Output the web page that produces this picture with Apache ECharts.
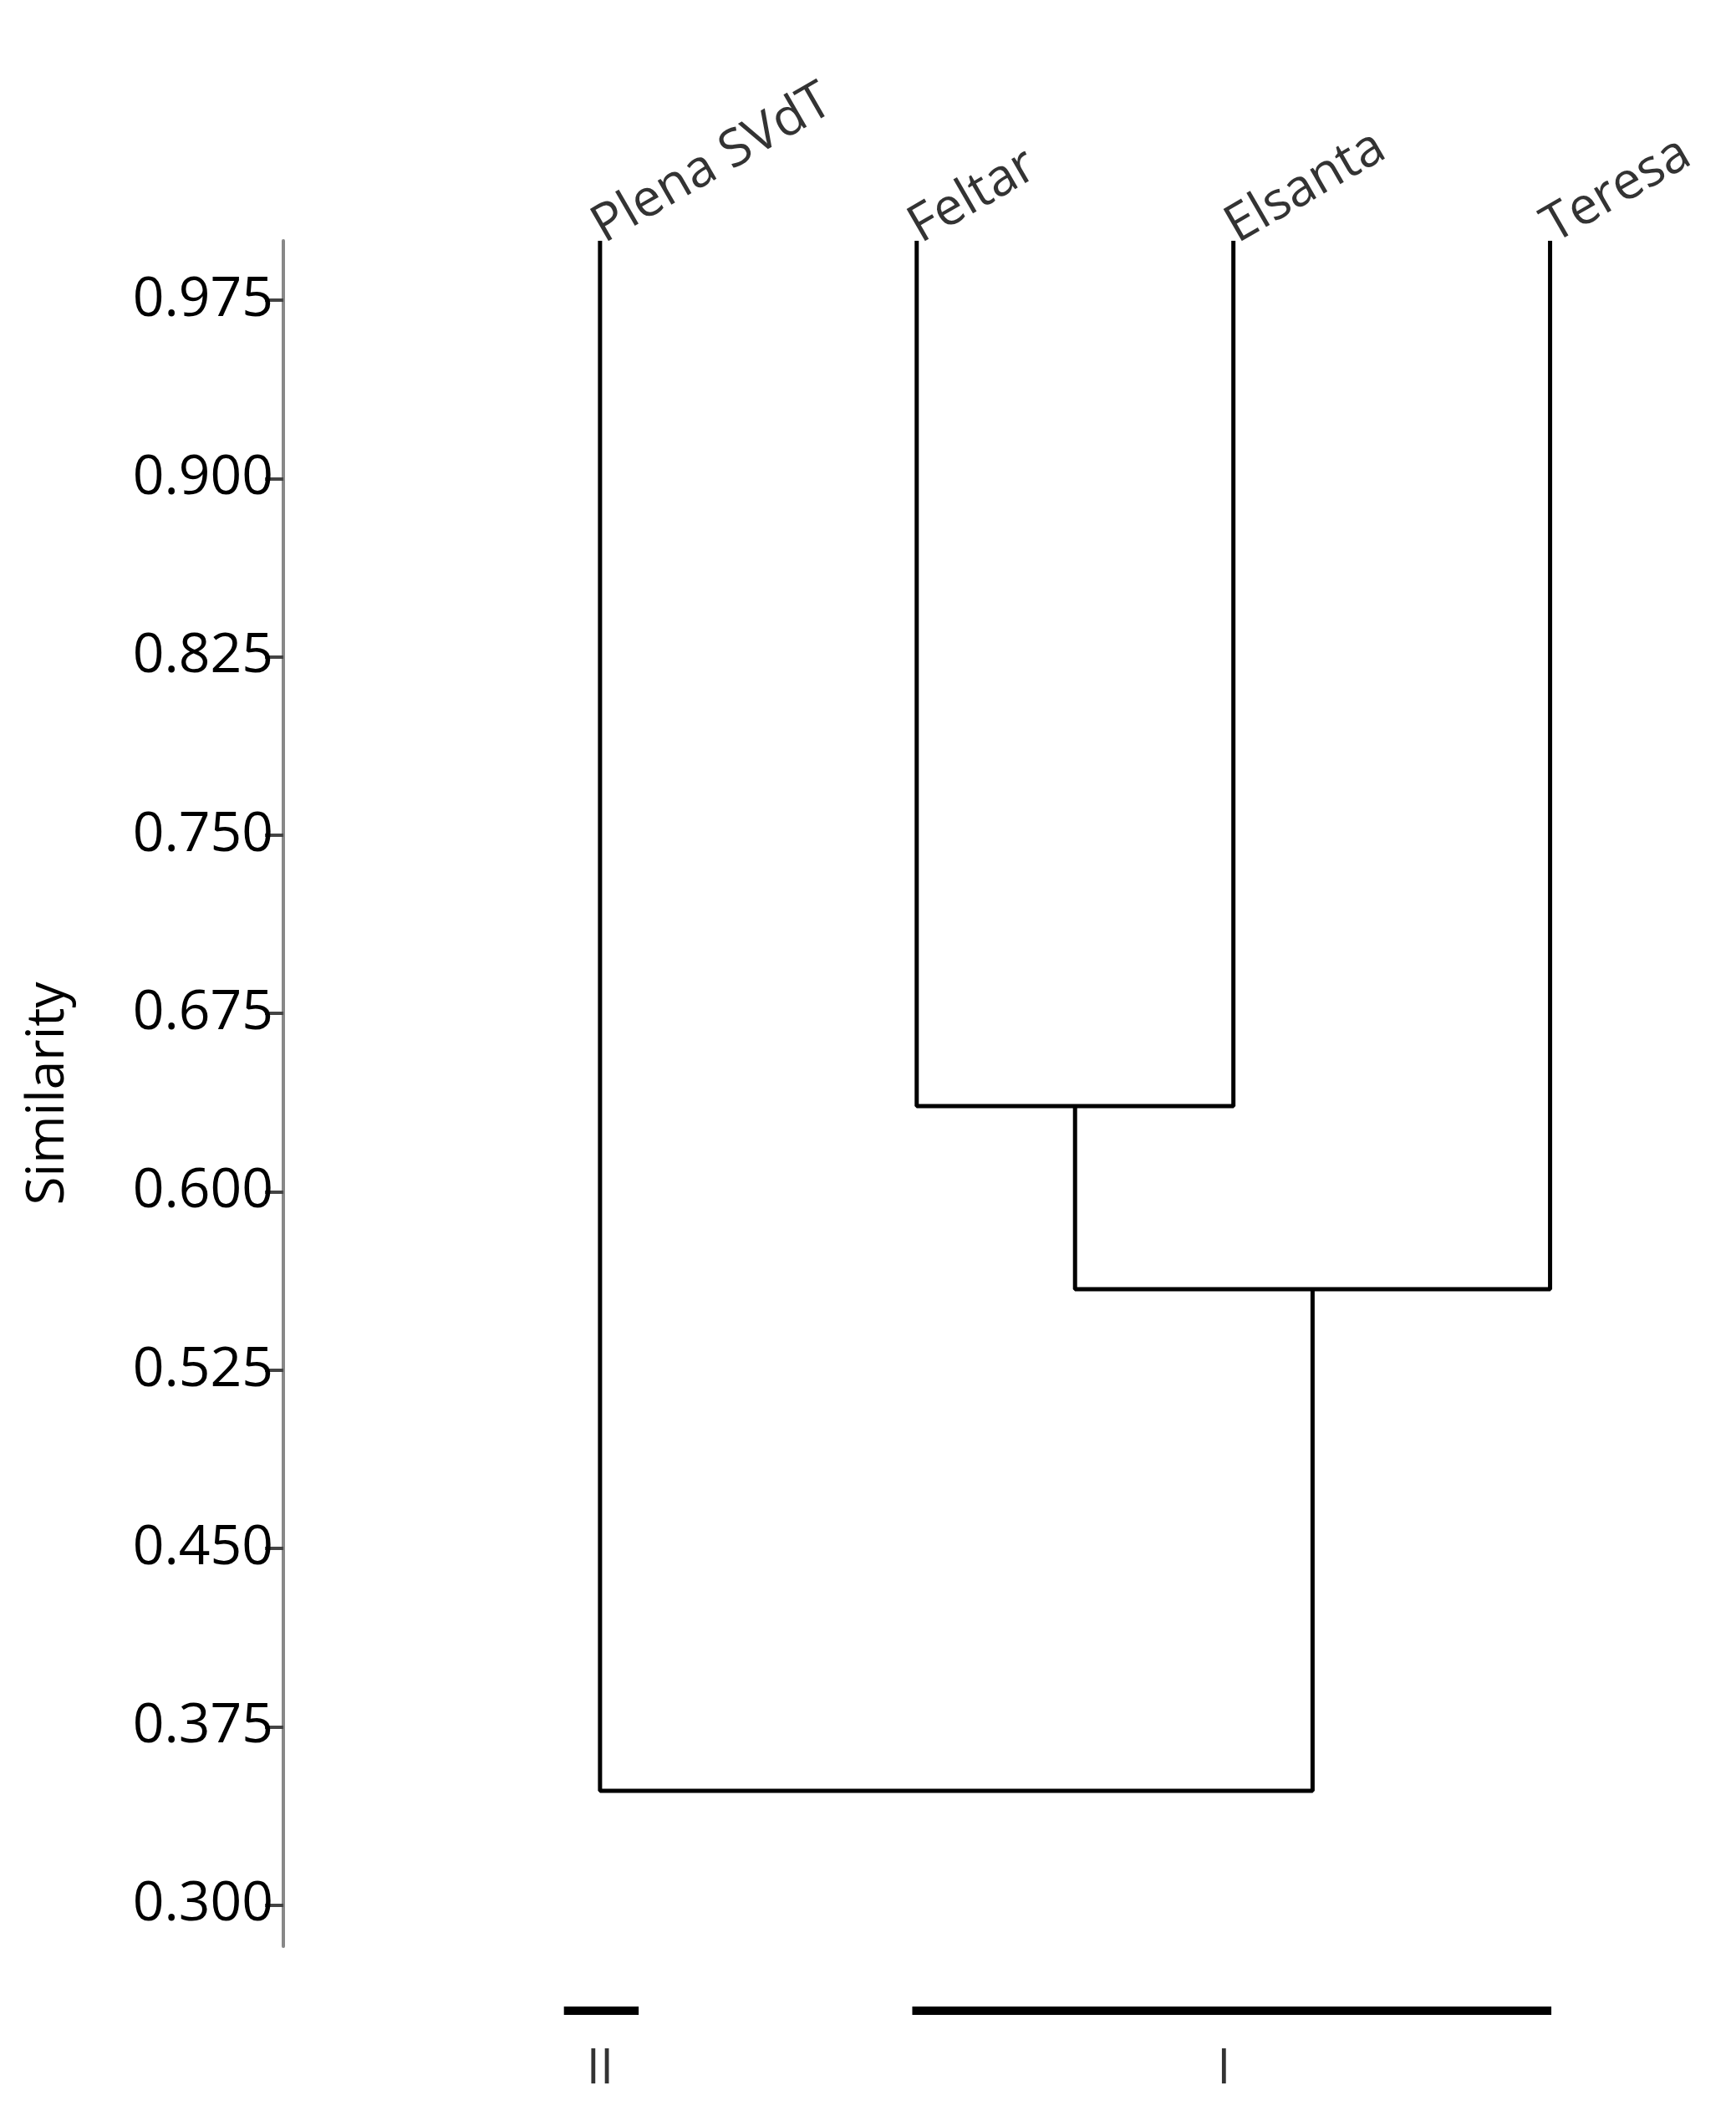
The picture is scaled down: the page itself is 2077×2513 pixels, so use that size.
<!DOCTYPE html>
<html><head><meta charset="utf-8">
<script src="https://cdn.jsdelivr.net/npm/echarts@6/dist/echarts.min.js"></script>
<style>html,body{margin:0;padding:0;background:#fff}#c{width:2077px;height:2513px}</style>
</head><body><div id="c"></div>
<script>
const leaves = ['Plena SVdT','Feltar','Elsanta','Teresa'];
const leafTop = 1.0;
// merges: [childA, childB, similarity]; nodes >= leaves.length are merges
const merges = [[1,2,0.636],[4,3,0.559],[0,5,0.348]];
const yTicks = [0.300,0.375,0.450,0.525,0.600,0.675,0.750,0.825,0.900,0.975];
const clusterLabels = ['II','I'];
const clusterStart = [-0.114, 0.986];
const clusterEnd = [0.122, 3.004];

const nodeX = leaves.map((_, i) => i);
const nodeY = leaves.map(() => leafTop);
const segs = [];
merges.forEach(([a,b,h]) => {
  segs.push([[nodeX[a],nodeY[a]],[nodeX[a],h],[nodeX[b],h],[nodeX[b],nodeY[b]]]);
  nodeX.push((nodeX[a]+nodeX[b])/2); nodeY.push(h);
});
const font = 'Open Sans';
const series = segs.map(s => ({type:'line', data:s, symbol:'none', xAxisIndex:0, yAxisIndex:0,
  lineStyle:{color:'#000', width:5}, animation:false}));
series.push({type:'scatter', xAxisIndex:0, yAxisIndex:0, symbolSize:0,
  data: leaves.map((n,i)=>({value:[i,leafTop], name:n})),
  label:{show:true, formatter:p=>p.name, position:'top', rotate:30, align:'left', verticalAlign:'middle',
    offset:[0,-8], fontSize:62, fontFamily:font, color:'#000', textBorderWidth:0}, animation:false});
clusterLabels.forEach((l,i) => {
  series.push({type:'line', xAxisIndex:1, yAxisIndex:1, symbol:'none',
    data:[[clusterStart[i],1],[clusterEnd[i],1]], lineStyle:{color:'#000', width:10}, animation:false});
  series.push({type:'scatter', xAxisIndex:1, yAxisIndex:1, symbolSize:0,
    data:[{value:[i===0?0:1.97,0], name:l}],
    label:{show:true, formatter:p=>p.name, position:'inside', fontSize:58, fontFamily:font, color:'#000', textBorderWidth:0}, animation:false});
});
const chart = echarts.init(document.getElementById('c'));
chart.setOption({
  backgroundColor:'#fff',
  grid:[{left:339, top:288, right:33, bottom:185},{left:339, top:2405, right:33, height:70}],
  xAxis:[{type:'value', min:-1, max:3.5, show:false},{type:'value', gridIndex:1, min:-1, max:3.5, show:false}],
  yAxis:[{type:'value', min:0.2826, max:1.0, splitLine:{show:false},
    axisLine:{show:true, onZero:false, lineStyle:{color:'#888', width:4}},
    axisTick:{show:true, length:22, lineStyle:{color:'#444', width:4},
      customValues:yTicks},
    axisLabel:{fontSize:66, fontFamily:font, color:'#000', margin:12, formatter:v=>v.toFixed(3), customValues:yTicks},
    name:'Similarity', nameLocation:'middle', nameGap:250, nameTextStyle:{fontSize:62, fontFamily:font, color:'#000'}},
    {type:'value', gridIndex:1, min:0, max:1, show:false}],
  series
});
</script></body></html>
